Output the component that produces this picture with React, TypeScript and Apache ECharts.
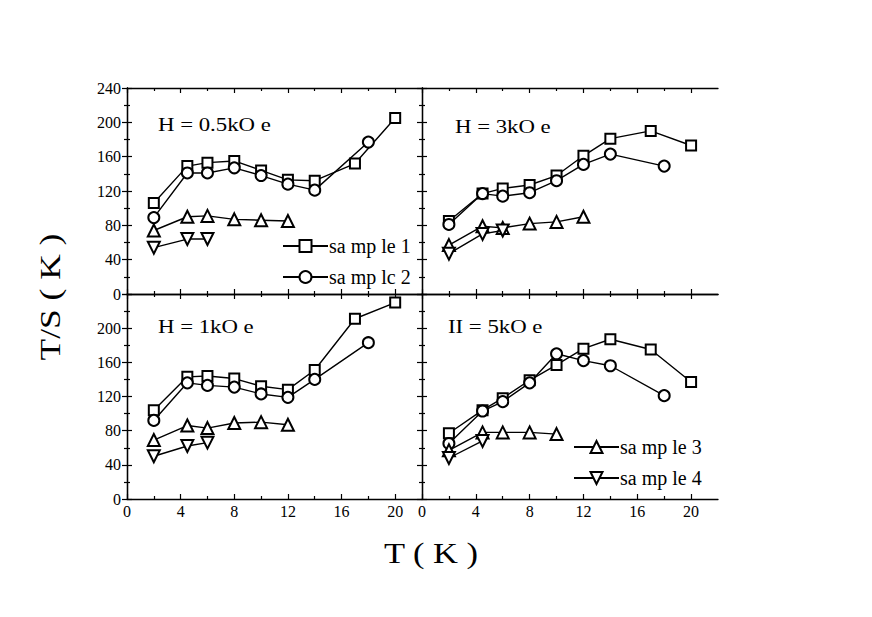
import React, { useEffect, useRef } from "react";
import * as echarts from "echarts";

// Temperatures (x) for each sample
const T_S1 = [2, 4.5, 6, 8, 10, 12, 14, 17, 20];
const T_S2 = [2, 4.5, 6, 8, 10, 12, 14, 18];
const T_S3 = [2, 4.5, 6, 8, 10, 12];
const T_S4 = [2, 4.5, 6];
const T_S3_5K = [2, 4.5, 6, 8, 10];
const T_S4_5K = [2, 4.5];

// H = 0.5 kOe
const H05_S1 = [106, 149, 153, 155, 144, 133, 132, 152, 205];
const H05_S2 = [89, 141, 141, 147, 138, 128, 121, 177];
const H05_S3 = [74, 90, 91, 87, 86, 85];
const H05_S4 = [54, 64, 64];

// H = 3 kOe
const H3_S1 = [85, 117, 123, 127, 138, 161, 181, 190, 173];
const H3_S2 = [81, 117, 114, 118, 132, 151, 163, 149];
const H3_S3 = [57, 79, 77, 82, 84, 90];
const H3_S4 = [47, 70, 74];

// H = 1 kOe
const H1_S1 = [104, 143, 144, 141, 132, 128, 151, 211, 230];
const H1_S2 = [92, 136, 133, 131, 123, 119, 140, 183];
const H1_S3 = [69, 86, 83, 89, 90, 87];
const H1_S4 = [50, 62, 66];

// H = 5 kOe
const H5_S1 = [77, 104, 118, 139, 157, 176, 187, 175, 137];
const H5_S2 = [65, 103, 114, 136, 170, 162, 156, 121];
const H5_S3 = [57, 78, 78, 78, 76];
const H5_S4 = [48, 68];

const X_MAJOR = [0, 4, 8, 12, 16, 20];
const X_MINOR = [2, 6, 10, 14, 18];
const PANEL_TITLES = ["H = 0.5kO e", "H = 3kO e", "H = 1kO e", "II = 5kO e"];
const SAMPLE_NAMES = ["sa mp le 1", "sa mp lc 2", "sa mp le 3", "sa mp le 4"];

const FONT = "Liberation Serif";

const zip = (xs: number[], ys: number[]) => xs.map((x, i) => [x, ys[i]]);

export default function App() {
  const ref = useRef<HTMLDivElement>(null);
  useEffect(() => {
    if (!ref.current) return;
    const chart = echarts.init(ref.current, null, { renderer: "svg" });

    const grids = [
      { left: 127, top: 88, width: 295, height: 206 },
      { left: 422, top: 88, width: 296, height: 206 },
      { left: 127, top: 294, width: 295, height: 205 },
      { left: 422, top: 294, width: 296, height: 205 },
    ];

    const panels = [
      { s1: H05_S1, s2: H05_S2, s3: H05_S3, s4: H05_S4, t3: T_S3, t4: T_S4 },
      { s1: H3_S1, s2: H3_S2, s3: H3_S3, s4: H3_S4, t3: T_S3, t4: T_S4 },
      { s1: H1_S1, s2: H1_S2, s3: H1_S3, s4: H1_S4, t3: T_S3, t4: T_S4 },
      { s1: H5_S1, s2: H5_S2, s3: H5_S3, s4: H5_S4, t3: T_S3_5K, t4: T_S4_5K },
    ];

    const line = { show: true, lineStyle: { color: "#000", width: 1.3 } };
    const labelStyle = { color: "#000", fontFamily: FONT, fontSize: 16 };

    const xAxes: any[] = [];
    const yAxes: any[] = [];
    grids.forEach((_, g) => {
      const bottomRow = g >= 2;
      const leftCol = g % 2 === 0;
      const base = { type: "value", gridIndex: g, min: 0, max: 22, splitLine: { show: false } };
      xAxes.push({
        ...base,
        position: "bottom",
        axisLine: line,
        axisTick: { show: true, inside: true, length: 5, customValues: X_MAJOR, lineStyle: { color: "#000", width: 1.2 } },
        axisLabel: { show: bottomRow, customValues: X_MAJOR, margin: 4, ...labelStyle },
      });
      xAxes.push({
        ...base,
        position: "bottom",
        axisLine: { show: false },
        axisTick: { show: true, inside: true, length: 3, customValues: X_MINOR, lineStyle: { color: "#000", width: 1.2 } },
        axisLabel: { show: false },
      });
      xAxes.push({
        ...base,
        position: "top",
        axisLine: line,
        axisTick: { show: true, inside: true, length: 5, customValues: X_MAJOR, lineStyle: { color: "#000", width: 1.2 } },
        axisLabel: { show: false },
      });
      xAxes.push({
        ...base,
        position: "top",
        axisLine: { show: false },
        axisTick: { show: true, inside: true, length: 3, customValues: X_MINOR, lineStyle: { color: "#000", width: 1.2 } },
        axisLabel: { show: false },
      });
      const ybase = {
        type: "value",
        gridIndex: g,
        min: 0,
        max: 240,
        interval: 40,
        splitLine: { show: false },
        axisLine: line,
        axisTick: { show: true, inside: true, length: 5, lineStyle: { color: "#000", width: 1.2 } },
        minorTick: { show: true, splitNumber: 2, length: 3, lineStyle: { color: "#000", width: 1.2 } },
      };
      yAxes.push({
        ...ybase,
        position: "left",
        axisLabel: {
          show: leftCol,
          margin: 6,
          ...labelStyle,
          formatter: (v: number) => (bottomRow && v === 240 ? "" : String(v)),
        },
      });
      yAxes.push({ ...ybase, position: "right", axisLabel: { show: false } });
    });

    const common = (g: number) => ({
      type: "line",
      xAxisIndex: 4 * g,
      yAxisIndex: 2 * g,
      color: "#000",
      lineStyle: { color: "#000", width: 1.4 },
      itemStyle: { color: "#000", borderWidth: 1.4 },
      showSymbol: true,
    });

    const series: any[] = [];
    panels.forEach((p, g) => {
      series.push({ ...common(g), name: SAMPLE_NAMES[0], symbol: "emptyRect", symbolSize: 10, data: zip(T_S1, p.s1) });
      series.push({ ...common(g), name: SAMPLE_NAMES[1], symbol: "emptyCircle", symbolSize: 11, data: zip(T_S2, p.s2) });
      series.push({ ...common(g), name: SAMPLE_NAMES[2], symbol: "emptyTriangle", symbolSize: 12, data: zip(p.t3, p.s3) });
      series.push({ ...common(g), name: SAMPLE_NAMES[3], symbol: "emptyTriangle", symbolRotate: 180, symbolSize: 12, data: zip(p.t4, p.s4) });
    });

    const legendBase = {
      orient: "vertical",
      itemWidth: 45,
      itemHeight: 15,
      itemGap: 11,
      padding: 0,
      textStyle: { color: "#000", fontFamily: FONT, fontSize: 20, padding: [0, 0, 0, -4] },
    };

    const titlePos = [
      [158, 125],
      [455, 127],
      [158, 327],
      [448, 327],
    ];

    chart.setOption({
      animation: false,
      backgroundColor: "#fff",
      grid: grids,
      xAxis: xAxes,
      yAxis: yAxes,
      series,
      legend: [
        { ...legendBase, data: [SAMPLE_NAMES[0], SAMPLE_NAMES[1]], left: 282, top: 236 },
        { ...legendBase, data: [SAMPLE_NAMES[2], SAMPLE_NAMES[3]], left: 573, top: 437 },
      ],
      graphic: [
        ...PANEL_TITLES.map((t, i) => ({
          type: "text",
          x: titlePos[i][0],
          y: titlePos[i][1],
          scaleX: 1.2,
          style: { text: t, fill: "#000", fontFamily: FONT, fontSize: 19, textAlign: "left", textVerticalAlign: "middle" },
        })),
        {
          type: "text",
          x: 50,
          y: 297,
          rotation: Math.PI / 2,
          scaleX: 1.18,
          style: { text: "T/S ( K )", fill: "#000", fontFamily: FONT, fontSize: 30, textAlign: "center", textVerticalAlign: "middle" },
        },
        {
          type: "text",
          x: 431,
          y: 553,
          scaleX: 1.15,
          style: { text: "T ( K )", fill: "#000", fontFamily: FONT, fontSize: 30, textAlign: "center", textVerticalAlign: "middle" },
        },
      ],
    });
    return () => chart.dispose();
  }, []);
  return <div ref={ref} style={{ position: "absolute", left: 0, top: 0, width: 872, height: 617 }} />;
}
